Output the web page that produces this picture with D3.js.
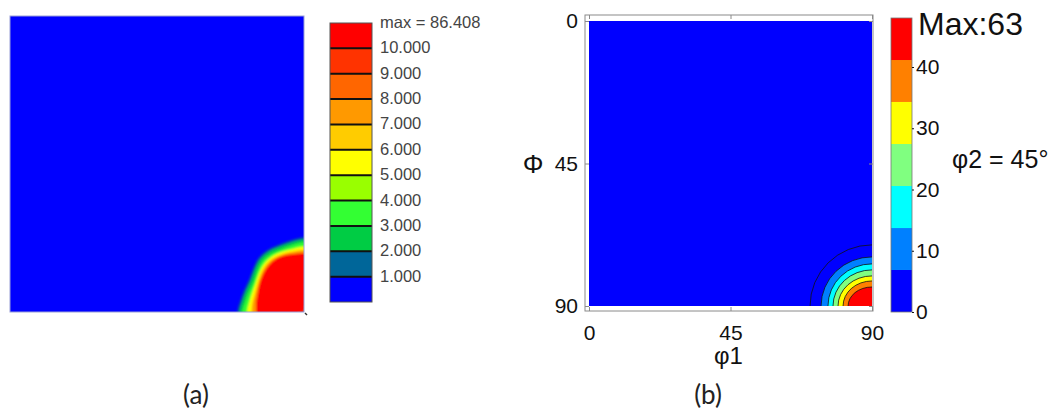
<!DOCTYPE html>
<html>
<head>
<meta charset="utf-8">
<script src="https://cdn.jsdelivr.net/npm/d3@7"></script>
<style>
  body { margin: 0; background: #fff; }
  text { font-family: "Liberation Sans", Arial, sans-serif; }
  .caption { font-family: Lato, "Open Sans", sans-serif; }
</style>
</head>
<body>
<div id="chart"></div>
<script>
// ---------- data: panel (a) ----------
// colour bar bins (bottom to top) and their boundary labels
let barColorsA = ["#0000ff", "#006699", "#00cc44", "#33ff33", "#99ff00", "#ffff00",
                  "#ffcc00", "#ff9900", "#ff6600", "#ff3300", "#ff0000"];
let barTicksA = [1, 2, 3, 4, 5, 6, 7, 8, 9, 10];
let maxA = 86.408;

// contour boundaries of the peak in the corner, radius (deg) read at each angle
let anglesA = [0, 10, 20, 30, 40, 50, 60, 70, 80, 90];
let levelsA = [1, 2, 3, 5, 7, 10];
let radiiA = [
  [20.4, 19.8, 19.5, 19.5, 20.4, 21.6, 22.0, 22.0, 22.3, 22.9],
  [19.7, 19.1, 18.8, 18.8, 19.7, 20.9, 21.3, 21.3, 21.6, 22.2],
  [18.8, 18.2, 17.9, 17.9, 18.8, 20.0, 20.4, 20.4, 20.7, 21.3],
  [17.4, 17.0, 16.9, 17.2, 18.1, 19.1, 19.6, 19.6, 19.6, 20.0],
  [16.0, 16.0, 16.0, 16.5, 17.4, 18.4, 18.9, 18.9, 18.8, 19.0],
  [14.6, 14.9, 15.2, 15.9, 16.8, 17.7, 18.3, 18.3, 18.0, 18.0]
];

// ---------- data: panel (b) ----------
let barColorsB = ["#0000ff", "#0080ff", "#00ffff", "#80ff80", "#ffff00", "#ff8000", "#ff0000"];
let binEdgesB = [6.86, 13.71, 20.57, 27.43, 34.29, 41.14];
let barMaxB = 48;
let barTicksB = [0, 10, 20, 30, 40];
let maxB = 63;
let axisTicksB = [0, 45, 90];

// contour ellipses round (90, 90): level, radius along phi1 and along Phi (deg)
let levelsB = [3.4, 6.86, 13.71, 20.57, 27.43, 34.29, 41.14];
let rxB = [19.7, 16.2, 14.0, 12.4, 10.8, 9.2, 7.6];
let ryB = [19.3, 15.5, 13.3, 11.4, 9.5, 7.9, 6.0];

const width = 1059, height = 410;

let svg = d3.select("#chart").append("svg")
    .attr("width", width)
    .attr("height", height);

let defs = svg.append("defs");

svg.append("rect")
    .attr("width", width)
    .attr("height", height)
    .attr("fill", "#fff");

// ================= panel (a) =================
let xa = d3.scaleLinear().domain([0, 90]).range([10, 304]);
let ya = d3.scaleLinear().domain([0, 90]).range([16, 312]);
let colorA = d3.scaleThreshold().domain(barTicksA).range(barColorsA);

defs.append("clipPath").attr("id", "clip-a")
    .append("rect")
    .attr("x", xa(0)).attr("y", ya(0))
    .attr("width", xa(90) - xa(0)).attr("height", ya(90) - ya(0));

defs.append("filter").attr("id", "soft")
    .attr("x", "-20%").attr("y", "-20%").attr("width", "140%").attr("height", "140%")
    .append("feGaussianBlur").attr("stdDeviation", 1.3);

let gA = svg.append("g").attr("clip-path", "url(#clip-a)");

gA.append("rect")
    .attr("x", xa(0)).attr("y", ya(0))
    .attr("width", xa(90) - xa(0)).attr("height", ya(90) - ya(0))
    .attr("fill", colorA(0));

// radial wedges from the corner, angle 0 = towards phi1 = 0, 90 = towards Phi = 0
let pxPerDeg = xa(1) - xa(0);
let wedge = d3.areaRadial()
    .angle(d => (d.a - 90) * Math.PI / 180)
    .innerRadius(0)
    .outerRadius(d => d.r * pxPerDeg)
    .curve(d3.curveCatmullRom);

let bandsA = levelsA.map((lv, i) => {
    let pts = anglesA.map((a, j) => ({a: a, r: radiiA[i][j]}));
    // run a little past both edges so the softening does not fade at the border
    pts.unshift({a: -15, r: radiiA[i][0]});
    pts.push({a: 105, r: radiiA[i][anglesA.length - 1]});
    return {level: lv, pts: pts};
});

gA.append("g")
    .attr("filter", "url(#soft)")
    .attr("transform", "translate(" + xa(90) + "," + ya(90) + ")")
    .selectAll("path")
    .data(bandsA)
    .join("path")
    .attr("d", d => wedge(d.pts))
    .attr("fill", d => colorA(d.level));

svg.append("rect")
    .attr("x", xa(0)).attr("y", ya(0))
    .attr("width", xa(90) - xa(0)).attr("height", ya(90) - ya(0))
    .attr("fill", "none")
    .attr("stroke", "#9aa0d8")
    .attr("stroke-width", 1);

// little mark at the bottom right corner
svg.append("line")
    .attr("x1", xa(90) + 1).attr("y1", ya(90) + 1)
    .attr("x2", xa(90) + 3).attr("y2", ya(90) + 3)
    .attr("stroke", "#333").attr("stroke-width", 1.5);

// colour bar (a)
let barA = d3.scaleLinear().domain([0, barColorsA.length]).range([302, 23]);
let barGA = svg.append("g");

barGA.selectAll("rect")
    .data(barColorsA)
    .join("rect")
    .attr("x", 330)
    .attr("y", (d, i) => barA(i + 1))
    .attr("width", 42)
    .attr("height", (d, i) => barA(i) - barA(i + 1))
    .attr("fill", d => d);

barGA.selectAll("line")
    .data(barTicksA)
    .join("line")
    .attr("x1", 330).attr("x2", 372)
    .attr("y1", d => barA(d)).attr("y2", d => barA(d))
    .attr("stroke", "#111")
    .attr("stroke-width", 2);

barGA.append("rect")
    .attr("x", 330).attr("y", barA(barColorsA.length))
    .attr("width", 42).attr("height", barA(0) - barA(barColorsA.length))
    .attr("fill", "none")
    .attr("stroke", "#555")
    .attr("stroke-width", 1);

barGA.selectAll("text.lab")
    .data(barTicksA)
    .join("text")
    .attr("class", "lab")
    .attr("x", 380)
    .attr("y", d => barA(d) + 5)
    .attr("font-size", 16.5)
    .attr("fill", "#444")
    .text(d => d3.format(".3f")(d));

barGA.append("text")
    .attr("x", 380)
    .attr("y", barA(barColorsA.length) + 5)
    .attr("font-size", 16.5)
    .attr("fill", "#444")
    .text("max = " + maxA);

// ================= panel (b) =================
let xb = d3.scaleLinear().domain([0, 90]).range([589, 872]);
let yb = d3.scaleLinear().domain([0, 90]).range([21, 306]);
let colorB = d3.scaleThreshold().domain(binEdgesB).range(barColorsB);

defs.append("clipPath").attr("id", "clip-b")
    .append("rect")
    .attr("x", xb(0)).attr("y", yb(0))
    .attr("width", xb(90) - xb(0)).attr("height", yb(90) - yb(0));

let gB = svg.append("g").attr("clip-path", "url(#clip-b)");

gB.append("rect")
    .attr("x", xb(0)).attr("y", yb(0))
    .attr("width", xb(90) - xb(0)).attr("height", yb(90) - yb(0))
    .attr("fill", colorB(0));

gB.selectAll("ellipse")
    .data(levelsB)
    .join("ellipse")
    .attr("cx", xb(90))
    .attr("cy", yb(90))
    .attr("rx", (d, i) => xb(rxB[i]) - xb(0))
    .attr("ry", (d, i) => yb(ryB[i]) - yb(0))
    .attr("fill", d => colorB(d))
    .attr("stroke", "#111")
    .attr("stroke-width", 0.8);

// axes box, a few px outside the data area
let box = {x0: 585, y0: 15, x1: 873, y1: 311};

svg.append("rect")
    .attr("x", box.x0).attr("y", box.y0)
    .attr("width", box.x1 - box.x0).attr("height", box.y1 - box.y0)
    .attr("fill", "none")
    .attr("stroke", "#8a8a8a")
    .attr("stroke-width", 1);

let leftAxis = svg.append("g")
    .attr("transform", "translate(" + box.x0 + ",0)")
    .call(d3.axisLeft(yb).tickValues(axisTicksB).tickSizeInner(-4).tickSizeOuter(0).tickPadding(7));

let bottomAxis = svg.append("g")
    .attr("transform", "translate(0," + box.y1 + ")")
    .call(d3.axisBottom(xb).tickValues(axisTicksB).tickSizeInner(-4).tickSizeOuter(0).tickPadding(14));

svg.append("g")
    .attr("transform", "translate(0," + box.y0 + ")")
    .call(d3.axisTop(xb).tickValues(axisTicksB).tickSizeInner(-4).tickSizeOuter(0).tickFormat(""));

svg.append("g")
    .attr("transform", "translate(" + box.x1 + ",0)")
    .call(d3.axisRight(yb).tickValues(axisTicksB).tickSizeInner(-4).tickSizeOuter(0).tickFormat(""));

svg.selectAll(".domain").remove();
svg.selectAll(".tick line").attr("stroke", "#8a8a8a");

[leftAxis, bottomAxis].forEach(ax => {
    ax.selectAll("text")
        .attr("font-size", 21)
        .attr("fill", "#111")
        .style("font-family", "'Liberation Sans', Arial, sans-serif");
});

svg.append("text")
    .attr("x", 533)
    .attr("y", yb(45) + 9)
    .attr("text-anchor", "middle")
    .attr("font-size", 26)
    .attr("fill", "#111")
    .text("Φ");

svg.append("text")
    .attr("x", xb(45) - 2)
    .attr("y", 364)
    .attr("text-anchor", "middle")
    .attr("font-size", 24)
    .attr("fill", "#111")
    .text("φ1");

// colour bar (b)
let barB = d3.scaleLinear().domain([0, barMaxB]).range([312, 18]);
let edgesB = [0].concat(binEdgesB, [barMaxB]);
let barGB = svg.append("g");

barGB.selectAll("rect")
    .data(barColorsB)
    .join("rect")
    .attr("x", 891)
    .attr("y", (d, i) => barB(edgesB[i + 1]))
    .attr("width", 21)
    .attr("height", (d, i) => barB(edgesB[i]) - barB(edgesB[i + 1]))
    .attr("fill", d => d);

barGB.append("rect")
    .attr("x", 891).attr("y", barB(barMaxB))
    .attr("width", 21).attr("height", barB(0) - barB(barMaxB))
    .attr("fill", "none")
    .attr("stroke", "#777")
    .attr("stroke-width", 0.8);

let barAxisB = barGB.append("g")
    .attr("transform", "translate(912,0)")
    .call(d3.axisRight(barB).tickValues(barTicksB).tickSizeInner(2).tickSizeOuter(0).tickPadding(2));

barAxisB.select(".domain").remove();
barAxisB.selectAll(".tick line").attr("stroke", "#111");
barAxisB.selectAll("text")
    .attr("font-size", 21)
    .attr("fill", "#111")
    .style("font-family", "'Liberation Sans', Arial, sans-serif");

svg.append("text")
    .attr("x", 918)
    .attr("y", 35)
    .attr("font-size", 32)
    .attr("fill", "#111")
    .text("Max:" + maxB);

svg.append("text")
    .attr("x", 952)
    .attr("y", 168)
    .attr("font-size", 25)
    .attr("fill", "#111")
    .text("φ2 = 45°");

// ================= captions =================
svg.append("text")
    .attr("class", "caption")
    .attr("x", 196)
    .attr("y", 404)
    .attr("text-anchor", "middle")
    .attr("font-size", 26)
    .attr("fill", "#222")
    .text("(a)");

svg.append("text")
    .attr("class", "caption")
    .attr("x", 708)
    .attr("y", 404)
    .attr("text-anchor", "middle")
    .attr("font-size", 26)
    .attr("fill", "#222")
    .text("(b)");
</script>
</body>
</html>
